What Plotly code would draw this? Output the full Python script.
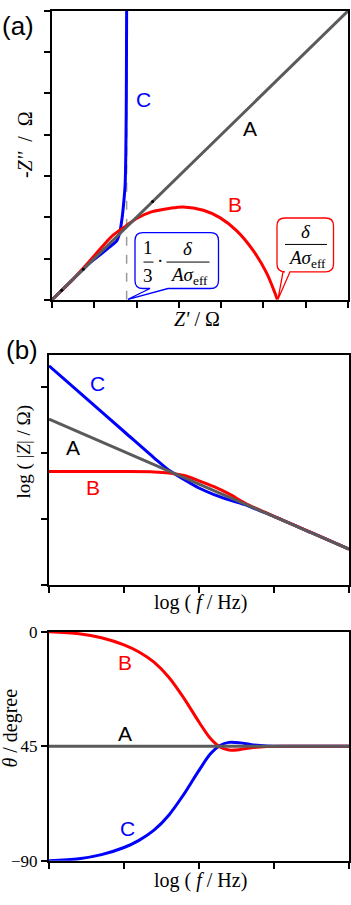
import plotly.graph_objects as go

# ---------------- data ----------------
# Panel (a): Nyquist plot, Z' vs -Z'' (arbitrary units, 0..7)
a_A_re = [0, 7]
a_A_im = [0, 7]
a_A_dot_re = [0.23, 0.74, 2.38]
a_A_dot_im = [0.23, 0.74, 2.38]
a_B_re = [0, 0.5, 0.9, 1.2, 1.45, 1.75, 2.0, 2.35, 2.8, 3.1, 3.58, 3.97, 4.37, 4.76, 5.08, 5.27, 5.33]
a_B_im = [0, 0.5, 0.95, 1.3, 1.57, 1.79, 1.97, 2.13, 2.22, 2.25, 2.17, 1.99, 1.67, 1.19, 0.64, 0.17, 0]
a_C_re = [0, 0.5, 0.9, 1.15, 1.35, 1.53, 1.60, 1.66, 1.70, 1.73, 1.745, 1.755, 1.76, 1.765]
a_C_im = [0, 0.5, 0.9, 1.1, 1.27, 1.43, 1.62, 2.0, 2.4, 2.8, 3.5, 4.5, 5.5, 7.0]
a_ref_re = [1.765, 1.765]
a_ref_im = [0, 7]

# Panel (b): log|Z| vs log f
b_A_x = [0, 4]
b_A_y = [2.52, 0.54]
b_x = [0, 0.5, 1.0, 1.4, 1.6, 1.8, 2.0, 2.2, 2.4, 2.6, 2.8, 3.0, 3.5, 4.0]
b_B_y = [1.72, 1.72, 1.72, 1.715, 1.70, 1.66, 1.58, 1.49, 1.38, 1.25, 1.14, 1.04, 0.79, 0.54]
b_C_y = [3.33, 2.83, 2.33, 1.93, 1.74, 1.60, 1.47, 1.37, 1.29, 1.22, 1.13, 1.04, 0.79, 0.54]

# Panel (c): phase angle vs log f
c_A_x = [0, 4]
c_A_y = [-45, -45]
c_x = [0, 0.4, 0.7, 1.0, 1.2, 1.4, 1.6, 1.8, 2.0, 2.15, 2.28, 2.4, 2.55, 2.7, 2.9, 3.2, 3.6, 4.0]
c_B_y = [0, -0.8, -2.4, -5.2, -8.0, -12.0, -18.0, -26.2, -35.5, -41.9, -45.3, -46.5, -46.3, -45.6, -45.1, -45, -45, -45]
c_C_y = [-90, -89.2, -87.6, -84.8, -82.0, -78.0, -72.0, -63.8, -54.5, -48.1, -44.7, -43.5, -43.7, -44.4, -44.9, -45, -45, -45]

c_ticks = [0, -45, -90]
c_ticktext = ["0", "45", "\u221290"]

# ---------------- styling ----------------
W, H = 351, 905
BLUE = "#0000ff"
RED = "#ff0000"
GRAY = "#5a5a5a"
SANS = "Liberation Sans, Arial, sans-serif"
SERIF = "Liberation Serif, Times New Roman, serif"


def PX(x):
    return x / W


def PY(y):
    return 1 - y / H


fig = go.Figure()

# panel (a)
fig.add_trace(go.Scatter(x=a_ref_re, y=a_ref_im, mode="lines",
                         line=dict(color="#9a9a9a", width=1.5, dash="dash"),
                         xaxis="x", yaxis="y", showlegend=False))
fig.add_trace(go.Scatter(x=a_C_re, y=a_C_im, mode="lines",
                         line=dict(color=BLUE, width=3, shape="spline", smoothing=0.6),
                         xaxis="x", yaxis="y", showlegend=False))
fig.add_trace(go.Scatter(x=a_B_re, y=a_B_im, mode="lines",
                         line=dict(color=RED, width=3, shape="spline", smoothing=0.8),
                         xaxis="x", yaxis="y", showlegend=False))
fig.add_trace(go.Scatter(x=a_A_re, y=a_A_im, mode="lines",
                         line=dict(color=GRAY, width=3),
                         xaxis="x", yaxis="y", showlegend=False))
fig.add_trace(go.Scatter(x=a_A_dot_re, y=a_A_dot_im, mode="markers",
                         marker=dict(color="black", size=3),
                         xaxis="x", yaxis="y", showlegend=False))

# panel (b)
fig.add_trace(go.Scatter(x=b_x, y=b_C_y, mode="lines",
                         line=dict(color=BLUE, width=3, shape="spline", smoothing=0.8),
                         xaxis="x2", yaxis="y2", showlegend=False))
fig.add_trace(go.Scatter(x=b_x, y=b_B_y, mode="lines",
                         line=dict(color=RED, width=3, shape="spline", smoothing=0.8),
                         xaxis="x2", yaxis="y2", showlegend=False))
fig.add_trace(go.Scatter(x=b_A_x, y=b_A_y, mode="lines",
                         line=dict(color=GRAY, width=3),
                         xaxis="x2", yaxis="y2", showlegend=False))

# panel (c)
fig.add_trace(go.Scatter(x=c_x, y=c_C_y, mode="lines",
                         line=dict(color=BLUE, width=3, shape="spline", smoothing=0.9),
                         xaxis="x3", yaxis="y3", showlegend=False))
fig.add_trace(go.Scatter(x=c_x, y=c_B_y, mode="lines",
                         line=dict(color=RED, width=3, shape="spline", smoothing=0.9),
                         xaxis="x3", yaxis="y3", showlegend=False))
fig.add_trace(go.Scatter(x=c_A_x, y=c_A_y, mode="lines",
                         line=dict(color=GRAY, width=3),
                         xaxis="x3", yaxis="y3", showlegend=False))

axis_common = dict(showline=True, linecolor="black", linewidth=2, mirror=True,
                   ticks="outside", ticklen=6, tickwidth=1.5, tickcolor="black",
                   showgrid=False, zeroline=False, fixedrange=True)

fig.update_layout(
    width=W, height=H, margin=dict(l=0, r=0, t=0, b=0),
    paper_bgcolor="white", plot_bgcolor="white",
    xaxis=dict(domain=[PX(52), PX(348)], range=[0, 7], tickvals=list(range(8)),
               showticklabels=False, anchor="y", **axis_common),
    yaxis=dict(domain=[PY(297), PY(2)], range=[0, 7], tickvals=list(range(8)),
               showticklabels=False, anchor="x", **axis_common),
    xaxis2=dict(domain=[PX(49), PX(349)], range=[0, 4], tickvals=[0, 1, 2, 3, 4],
                showticklabels=False, anchor="y2", **axis_common),
    yaxis2=dict(domain=[PY(588), PY(353)], range=[0, 3.5], tickvals=[0, 1, 2, 3],
                showticklabels=False, anchor="x2", **axis_common),
    xaxis3=dict(domain=[PX(49), PX(349)], range=[0, 4], tickvals=[0, 1, 2, 3, 4],
                showticklabels=False, anchor="y3", **axis_common),
    yaxis3=dict(domain=[PY(870), PY(636)], range=[-90, 0], tickvals=c_ticks,
                ticktext=c_ticktext, showticklabels=True, anchor="x3",
                tickfont=dict(family=SERIF, size=17, color="black"), **axis_common),
)

annotations = []


def txt(x, y, text, size=21, color="black", family=SANS, angle=0, xanchor="center"):
    annotations.append(dict(x=PX(x), y=PY(y), xref="paper", yref="paper", text=text,
                            showarrow=False, font=dict(family=family, size=size, color=color),
                            textangle=angle, xanchor=xanchor, yanchor="middle"))


# panel labels
txt(18, 17, "(a)", size=26)
txt(22, 348, "(b)", size=26)

# curve labels
txt(143, 92, "C", color=BLUE)
txt(250, 122, "A")
txt(235, 200, "B", color=RED)
txt(97, 383, "C", color=BLUE)
txt(73, 448, "A")
txt(93, 489, "B", color=RED)
txt(125, 668, "B", color=RED)
txt(125, 740, "A")
txt(127, 837, "C", color=BLUE)

# axis titles
txt(197, 317, "<i>Z'</i> / \u03a9", size=20, family=SERIF)
txt(25, 139, "-<i>Z''</i>  /  \u03a9", size=20, family=SERIF, angle=-90)
txt(200, 606, "log ( <i>f</i> / Hz)", size=20, family=SERIF)
txt(24, 452, "log ( |<i>Z</i>| / \u03a9)", size=19, family=SERIF, angle=-90)
txt(200, 890, "log ( <i>f</i> / Hz)", size=20, family=SERIF)
txt(11, 735, "<i>\u03b8</i> / degree", size=20, family=SERIF, angle=-90)

# callout contents
FS = 19
txt(148.3, 244, "1", size=FS, family=SERIF)
txt(148.3, 272, "3", size=FS, family=SERIF)
txt(159.5, 257, "\u00b7", size=FS, family=SERIF)
txt(187.5, 245, "<i>\u03b4</i>", size=FS, family=SERIF)
txt(188.5, 273, "<i>A\u03c3</i><sub>eff</sub>", size=FS, family=SERIF)
txt(305.5, 227, "<i>\u03b4</i>", size=FS, family=SERIF)
txt(306.5, 255, "<i>A\u03c3</i><sub>eff</sub>", size=FS, family=SERIF)

fig.update_layout(annotations=annotations)


def callout(x0, y0, x1, y1, r, tl, tr, tip):
    def P(x, y):
        return f"{PX(x):.6f},{PY(y):.6f}"
    path = (f"M {P(x0 + r, y0)} L {P(x1 - r, y0)} Q {P(x1, y0)} {P(x1, y0 + r)} "
            f"L {P(x1, y1 - r)} Q {P(x1, y1)} {P(x1 - r, y1)} "
            f"L {P(tr, y1)} L {P(tip[0], tip[1])} L {P(tl, y1)} "
            f"L {P(x0 + r, y1)} Q {P(x0, y1)} {P(x0, y1 - r)} "
            f"L {P(x0, y0 + r)} Q {P(x0, y0)} {P(x0 + r, y0)} Z")
    return path


shapes = []
shapes.append(dict(type="path", xref="paper", yref="paper",
                   path=callout(135, 228.5, 218.5, 285.5, 8, 150, 168, (128, 296.5)),
                   line=dict(color=BLUE, width=1.3), fillcolor="white", layer="above"))
shapes.append(dict(type="path", xref="paper", yref="paper",
                   path=callout(277, 213.5, 333.5, 268.5, 8, 283, 290, (278, 296.5)),
                   line=dict(color=RED, width=1.3), fillcolor="white", layer="above"))


def hline(x0, x1, y):
    shapes.append(dict(type="line", xref="paper", yref="paper",
                       x0=PX(x0), x1=PX(x1), y0=PY(y), y1=PY(y),
                       line=dict(color="black", width=1), layer="above"))


hline(143.5, 153.5, 258.5)
hline(166.5, 209.5, 258.5)
hline(285, 327, 240.5)

fig.update_layout(shapes=shapes)

fig.write_html("out.html")
